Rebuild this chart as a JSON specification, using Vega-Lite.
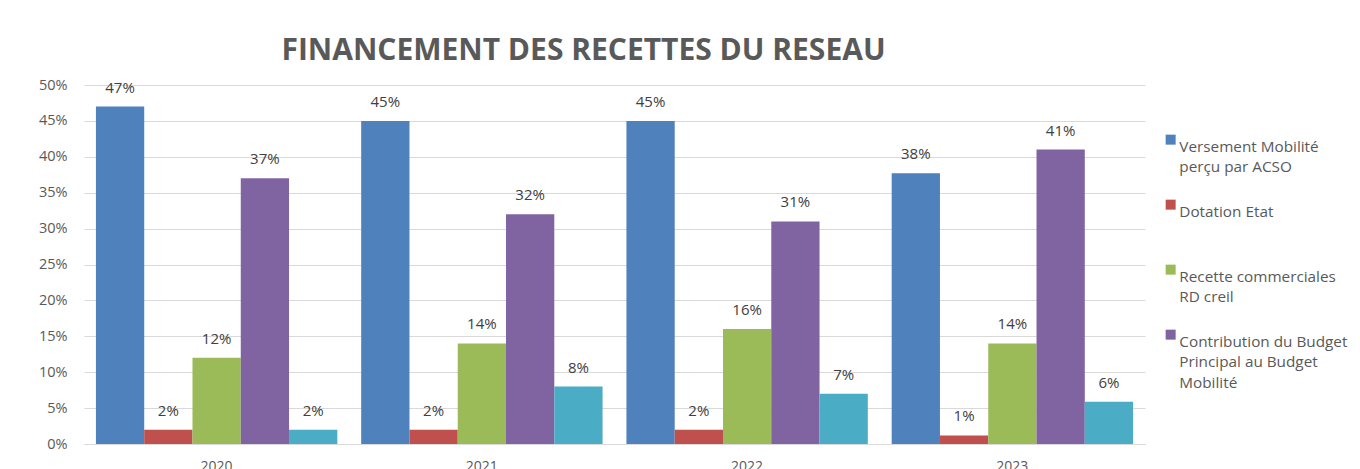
{
  "$schema": "https://vega.github.io/schema/vega-lite/v6.json",
  "autosize": {"type": "none"},
  "padding": {"left": 84, "top": 85, "right": 215, "bottom": 25},
  "width": 1061,
  "height": 359,
  "background": "white",
  "title": {
    "text": "FINANCEMENT DES RECETTES DU RESEAU",
    "font": "Open Sans",
    "fontSize": 30,
    "fontWeight": "bold",
    "color": "#595959",
    "anchor": "middle",
    "frame": "group",
    "dx": -31,
    "offset": 11
  },
  "data": {
    "values": [
      {"annee": "2020", "serie": "Versement Mobilité perçu par ACSO", "ordre": 1, "valeur": 0.47},
      {"annee": "2020", "serie": "Dotation Etat", "ordre": 2, "valeur": 0.02},
      {"annee": "2020", "serie": "Recette commerciales RD creil", "ordre": 3, "valeur": 0.12},
      {"annee": "2020", "serie": "Contribution du Budget Principal au Budget Mobilité", "ordre": 4, "valeur": 0.37},
      {"annee": "2020", "serie": "Autres recettes", "ordre": 5, "valeur": 0.02},
      {"annee": "2021", "serie": "Versement Mobilité perçu par ACSO", "ordre": 1, "valeur": 0.45},
      {"annee": "2021", "serie": "Dotation Etat", "ordre": 2, "valeur": 0.02},
      {"annee": "2021", "serie": "Recette commerciales RD creil", "ordre": 3, "valeur": 0.14},
      {"annee": "2021", "serie": "Contribution du Budget Principal au Budget Mobilité", "ordre": 4, "valeur": 0.32},
      {"annee": "2021", "serie": "Autres recettes", "ordre": 5, "valeur": 0.08},
      {"annee": "2022", "serie": "Versement Mobilité perçu par ACSO", "ordre": 1, "valeur": 0.45},
      {"annee": "2022", "serie": "Dotation Etat", "ordre": 2, "valeur": 0.02},
      {"annee": "2022", "serie": "Recette commerciales RD creil", "ordre": 3, "valeur": 0.16},
      {"annee": "2022", "serie": "Contribution du Budget Principal au Budget Mobilité", "ordre": 4, "valeur": 0.31},
      {"annee": "2022", "serie": "Autres recettes", "ordre": 5, "valeur": 0.07},
      {"annee": "2023", "serie": "Versement Mobilité perçu par ACSO", "ordre": 1, "valeur": 0.377},
      {"annee": "2023", "serie": "Dotation Etat", "ordre": 2, "valeur": 0.012},
      {"annee": "2023", "serie": "Recette commerciales RD creil", "ordre": 3, "valeur": 0.14},
      {"annee": "2023", "serie": "Contribution du Budget Principal au Budget Mobilité", "ordre": 4, "valeur": 0.41},
      {"annee": "2023", "serie": "Autres recettes", "ordre": 5, "valeur": 0.059}
    ]
  },
  "encoding": {
    "x": {
      "field": "annee",
      "type": "nominal",
      "title": null,
      "scale": {"paddingInner": 0.09, "paddingOuter": 0.045},
      "axis": {
        "labelAngle": 0,
        "labelFont": "Open Sans",
        "labelFontSize": 14,
        "labelColor": "#595959",
        "ticks": false,
        "domainColor": "#D9D9D9",
        "domainWidth": 1,
        "labelPadding": 15
      }
    },
    "xOffset": {
      "field": "serie",
      "type": "nominal",
      "sort": {"field": "ordre"},
      "scale": {"paddingInner": 0, "paddingOuter": 0}
    },
    "y": {
      "field": "valeur",
      "type": "quantitative",
      "title": null,
      "scale": {"domain": [0, 0.5], "nice": false},
      "axis": {
        "values": [0, 0.05, 0.1, 0.15, 0.2, 0.25, 0.3, 0.35, 0.4, 0.45, 0.5],
        "format": ".0%",
        "domain": false,
        "ticks": false,
        "labelFont": "Open Sans",
        "labelFontSize": 14.5,
        "labelColor": "#595959",
        "labelPadding": 17,
        "gridColor": "#D9D9D9",
        "gridWidth": 1
      }
    }
  },
  "layer": [
    {
      "mark": {"type": "bar"},
      "encoding": {
        "color": {
          "field": "serie",
          "type": "nominal",
          "sort": {"field": "ordre"},
          "scale": {
            "domain": ["Versement Mobilité perçu par ACSO", "Dotation Etat", "Recette commerciales RD creil", "Contribution du Budget Principal au Budget Mobilité", "Autres recettes"],
            "range": ["#4F81BD", "#C0504D", "#9BBB59", "#8064A2", "#4BACC6"]
          },
          "legend": {
            "title": null,
            "values": ["Versement Mobilité perçu par ACSO", "Dotation Etat", "Recette commerciales RD creil", "Contribution du Budget Principal au Budget Mobilité"],
            "orient": "none",
            "legendX": 1079,
            "legendY": 47,
            "direction": "vertical",
            "columns": 1,
            "gridAlign": "all",
            "symbolType": "square",
            "symbolSize": 100,
            "symbolStrokeWidth": 0,
            "labelFont": "Open Sans",
            "labelFontSize": 15.3,
            "labelColor": "#595959",
            "labelLimit": 300,
            "labelBaseline": "top",
            "labelOffset": 1,
            "rowPadding": 0,
            "encode": {
              "labels": {"update": {"lineHeight": {"value": 20.7}}}
            },
            "labelExpr": "datum.label == 'Versement Mobilité perçu par ACSO' ? ['Versement Mobilité', 'perçu par ACSO'] : datum.label == 'Recette commerciales RD creil' ? ['Recette commerciales', 'RD creil'] : datum.label == 'Contribution du Budget Principal au Budget Mobilité' ? ['Contribution du Budget', 'Principal au Budget', 'Mobilité'] : datum.label"
          }
        }
      }
    },
    {
      "mark": {
        "type": "text",
        "baseline": "bottom",
        "dy": -11,
        "font": "Open Sans",
        "fontSize": 15,
        "color": "#404040"
      },
      "encoding": {
        "text": {"field": "valeur", "type": "quantitative", "format": ".0%"}
      }
    }
  ],
  "config": {
    "view": {"stroke": null}
  }
}
